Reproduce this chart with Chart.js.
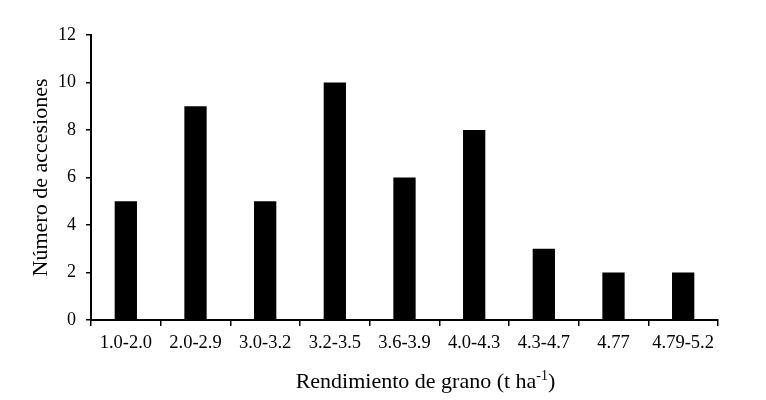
<!DOCTYPE html>
<html>
<head>
<meta charset="utf-8">
<script src="https://cdn.jsdelivr.net/npm/chart.js@4/dist/chart.umd.min.js"></script>
<style>
html,body{margin:0;padding:0;background:#fff;}
#wrap{width:766px;height:400px;}
</style>
</head>
<body>
<div id="wrap"><canvas id="c" width="766" height="400"></canvas></div>
<script>
const categories = ["1.0-2.0","2.0-2.9","3.0-3.2","3.2-3.5","3.6-3.9","4.0-4.3","4.3-4.7","4.77","4.79-5.2"];
const accesiones = [5, 9, 5, 10, 6, 8, 3, 2, 2];
const yTicks = [0, 2, 4, 6, 8, 10, 12];
const xTitleMain = "Rendimiento de grano (t ha";
const xTitleSup = "-1";
const xTitleEnd = ")";
const yTitle = "Número de accesiones";

const FONT = "'Liberation Serif', 'Times New Roman', serif";

const xTitlePlugin = {
  id: 'xTitleSup',
  afterDraw(chart) {
    const ctx = chart.ctx;
    const area = chart.chartArea;
    const cx = (area.left + area.right) / 2 + 21;
    const y = 388;
    ctx.save();
    ctx.fillStyle = '#000';
    ctx.textBaseline = 'alphabetic';
    ctx.textAlign = 'left';
    const big = "22px " + FONT, small = "14px " + FONT;
    ctx.font = big;
    const w1 = ctx.measureText(xTitleMain).width;
    const w3 = ctx.measureText(xTitleEnd).width;
    ctx.font = small;
    const w2 = ctx.measureText(xTitleSup).width;
    let x = cx - (w1 + w2 + w3) / 2;
    ctx.font = big;
    ctx.fillText(xTitleMain, x, y); x += w1;
    ctx.font = small;
    ctx.fillText(xTitleSup, x, y - 8); x += w2;
    ctx.font = big;
    ctx.fillText(xTitleEnd, x, y);
    ctx.restore();
  }
};

new Chart(document.getElementById('c'), {
  type: 'bar',
  data: {
    labels: categories,
    datasets: [{
      data: accesiones,
      backgroundColor: '#000',
      borderWidth: 0,
      barPercentage: 0.32,
      categoryPercentage: 1.0
    }]
  },
  options: {
    responsive: false,
    animation: false,
    devicePixelRatio: 1,
    layout: { padding: { left: 28, right: 48, top: 35, bottom: 0 } },
    plugins: { legend: { display: false }, tooltip: { enabled: false } },
    scales: {
      x: {
        offset: true,
        grid: { offset: true, drawOnChartArea: false, drawTicks: true, tickLength: 6, color: '#000', lineWidth: 1.5 },
        border: { color: '#000', width: 2 },
        ticks: { color: '#000', font: { family: FONT, size: 18.5 }, padding: 6, maxRotation: 0, autoSkip: false },
        afterFit: s => { s.height = 80; }
      },
      y: {
        min: 0, max: 12,
        afterBuildTicks: s => { s.ticks = yTicks.map(v => ({ value: v })); },
        grid: { drawOnChartArea: false, drawTicks: true, tickLength: 5, color: '#000', lineWidth: 1.5 },
        border: { color: '#000', width: 2 },
        ticks: { color: '#000', font: { family: FONT, size: 18 }, padding: 10 },
        title: { display: true, text: yTitle, color: '#000', font: { family: FONT, size: 22 }, padding: 0 },
        afterFit: s => { s.width = 63; }
      }
    }
  },
  plugins: [xTitlePlugin]
});
</script>
</body>
</html>
